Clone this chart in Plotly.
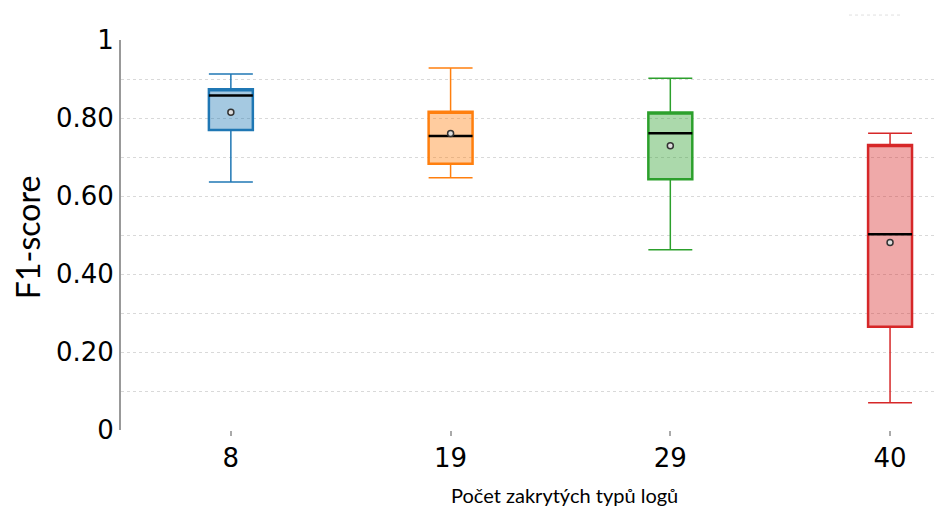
import plotly.graph_objects as go

# Number of hidden log types and the F1-score summary for each group
categories = ["8", "19", "29", "40"]
upper_whisker = [0.913, 0.928, 0.902, 0.761]
q3 = [0.874, 0.816, 0.814, 0.731]
median = [0.858, 0.754, 0.761, 0.502]
mean = [0.815, 0.760, 0.729, 0.481]
q1 = [0.769, 0.683, 0.643, 0.265]
lower_whisker = [0.636, 0.647, 0.462, 0.070]

y_tick_values = [0, 0.2, 0.4, 0.6, 0.8, 1.0]
y_tick_labels = ["0", "0.20", "0.40", "0.60", "0.80", "1"]

colors = ["#1f77b4", "#ff7f0e", "#2ca02c", "#d62728"]
fills = ["rgba(31,119,180,0.4)", "rgba(255,127,14,0.4)",
         "rgba(44,160,44,0.4)", "rgba(214,39,40,0.4)"]

BOX_W = 0.2
positions = list(range(len(categories)))

fig = go.Figure()

# Boxes (interquartile range) with a heavier outline
for i, pos in enumerate(positions):
    fig.add_trace(go.Box(
        x=[pos], q1=[q1[i]], median=[q3[i]], q3=[q3[i]],
        lowerfence=[q1[i]], upperfence=[q3[i]],
        width=BOX_W, whiskerwidth=0,
        line=dict(color=colors[i], width=2.5),
        fillcolor=fills[i], boxpoints=False,
        showlegend=False, hoverinfo="skip",
    ))

# Whiskers with end caps
for i, pos in enumerate(positions):
    h = BOX_W / 2
    xs = [pos, pos, None, pos - h, pos + h, None,
          pos, pos, None, pos - h, pos + h]
    ys = [q3[i], upper_whisker[i], None, upper_whisker[i], upper_whisker[i], None,
          q1[i], lower_whisker[i], None, lower_whisker[i], lower_whisker[i]]
    fig.add_trace(go.Scatter(
        x=xs, y=ys, mode="lines",
        line=dict(color=colors[i], width=1.5),
        showlegend=False, hoverinfo="skip",
    ))

# Median lines
for i, pos in enumerate(positions):
    fig.add_trace(go.Scatter(
        x=[pos - BOX_W / 2, pos + BOX_W / 2], y=[median[i], median[i]],
        mode="lines", line=dict(color="black", width=2.5),
        showlegend=False, hoverinfo="skip",
    ))

# Means
fig.add_trace(go.Scatter(
    x=positions, y=mean, mode="markers",
    marker=dict(symbol="circle", size=6, color="#dddddd",
                line=dict(color="#333333", width=1.5)),
    showlegend=False, hoverinfo="skip",
))

fig.update_layout(
    width=934, height=507,
    margin=dict(l=121, r=0, t=40, b=77),
    paper_bgcolor="white", plot_bgcolor="white",
    showlegend=False,
    xaxis=dict(
        range=[-0.5, 3.2],
        tickmode="array", tickvals=positions, ticktext=categories,
        ticks="outside", ticklen=5, tickwidth=2, tickcolor="#aaaaaa",
        showline=False, showgrid=False, zeroline=False,
        tickfont=dict(family="DejaVu Sans", size=26, color="black"),
    ),
    yaxis=dict(
        range=[0, 1],
        tickmode="array", tickvals=y_tick_values, ticktext=y_tick_labels,
        showgrid=True, gridcolor="#d9d9d9", griddash="dot", gridwidth=1,
        minor=dict(dtick=0.1, showgrid=True, gridcolor="#d9d9d9",
                   griddash="dot", gridwidth=1),
        showline=True, linecolor="#999999", linewidth=2,
        zeroline=False, ticks="",
        tickfont=dict(family="DejaVu Sans", size=26, color="black"),
    ),
    annotations=[
        dict(text="F1-score", xref="paper", yref="paper",
             x=-0.1156, y=0.492, xanchor="center", yanchor="middle",
             textangle=-90, showarrow=False,
             font=dict(family="Lato", size=32, color="black")),
        dict(text="Počet zakrytých typů logů", xref="x", yref="paper",
             x=1.52, y=-0.167, xanchor="center", yanchor="middle",
             showarrow=False,
             font=dict(family="Lato", size=20, color="black")),
    ],
    shapes=[
        dict(type="line", xref="paper", yref="paper",
             x0=(849 - 121) / 813, x1=(901 - 121) / 813,
             y0=1.064, y1=1.064,
             line=dict(color="#e0e0e0", width=1, dash="dot")),
    ],
)

fig.write_html("out.html")
